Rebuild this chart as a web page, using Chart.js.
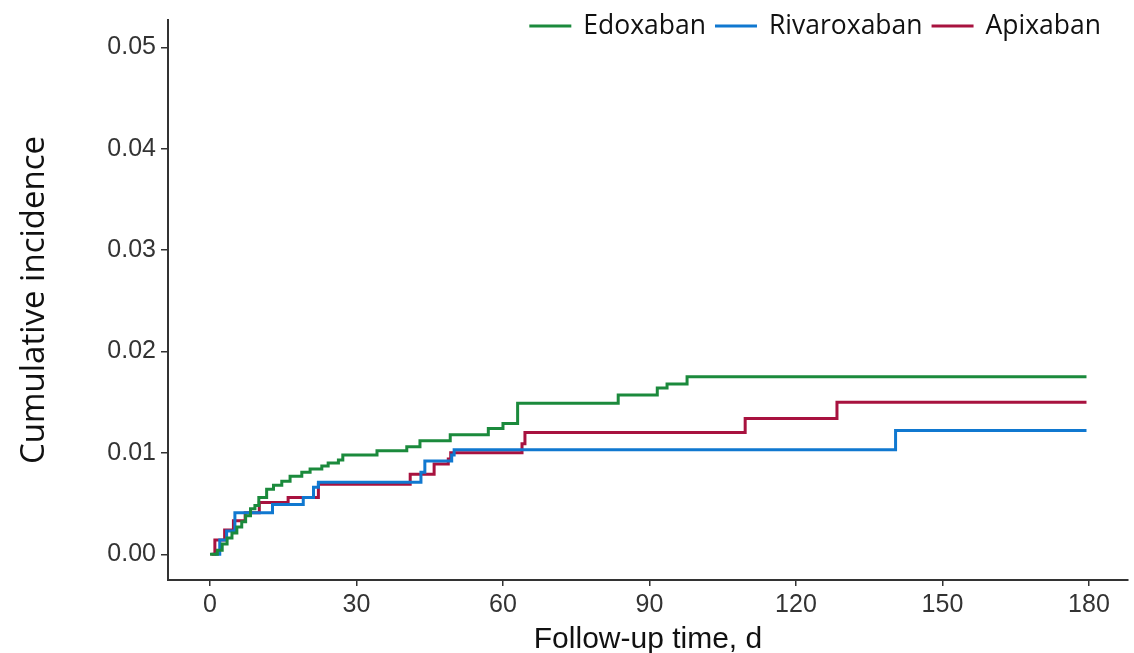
<!DOCTYPE html>
<html>
<head>
<meta charset="utf-8">
<title>Cumulative incidence</title>
<script src="https://cdn.jsdelivr.net/npm/chart.js@4.4.0/dist/chart.umd.min.js"></script>
<style>
  html, body { margin: 0; padding: 0; background: #fff; overflow: hidden; }
</style>
</head>
<body>
<canvas id="incidenceChart" width="1134" height="653"></canvas>
<script>
// --- Data (days, cumulative incidence) ---
const seriesNames = ['Edoxaban', 'Rivaroxaban', 'Apixaban'];
const seriesColors = ['#1b8a3c', '#1078d0', '#a8123f'];

const edoxabanDays = [0, 1.5, 2.5, 3.5, 4.5, 5.5, 6.5, 7.3, 8.3, 9.2, 10, 11.6, 13, 14.7, 16.4, 18.8, 20.5, 22.9, 24.2, 26.3, 27.2, 34.2, 40.3, 43, 49.2, 57, 60, 63, 83.6, 91.6, 93.6, 97.7, 179.5];
const edoxabanInc = [0, 0.0004, 0.0010, 0.0016, 0.0021, 0.0027, 0.0032, 0.0038, 0.0045, 0.0048, 0.0056, 0.0064, 0.0068, 0.0072, 0.0077, 0.0081, 0.0084, 0.0087, 0.0090, 0.0093, 0.0098, 0.0102, 0.0106, 0.0112, 0.0118, 0.0124, 0.0129, 0.0149, 0.0157, 0.0164, 0.0168, 0.0175, 0.0175];

const rivaroxabanDays = [1, 2, 3.4, 5.1, 12.8, 19.1, 21.2, 22.2, 43.2, 44, 49.5, 50, 140.4, 179.5];
const rivaroxabanInc = [0, 0.0014, 0.0023, 0.0041, 0.0049, 0.0056, 0.0066, 0.0071, 0.0081, 0.0092, 0.0098, 0.0103, 0.0122, 0.0122];

const apixabanDays = [0.3, 1, 3, 4.8, 7.2, 10.1, 16, 22.2, 41, 45.9, 48.8, 49.3, 63.9, 64.5, 109.6, 128.4, 179.5];
const apixabanInc = [0, 0.0014, 0.0024, 0.0033, 0.0041, 0.0051, 0.0056, 0.0069, 0.0079, 0.0089, 0.0094, 0.0100, 0.0109, 0.0120, 0.0134, 0.0150, 0.0150];

const xTickValues = [0, 30, 60, 90, 120, 150, 180];
const yTickValues = [0, 0.01, 0.02, 0.03, 0.04, 0.05];

const toPoints = (days, inc) => days.map((d, i) => ({ x: d, y: inc[i] }));
const allDays = [edoxabanDays, rivaroxabanDays, apixabanDays];
const allInc = [edoxabanInc, rivaroxabanInc, apixabanInc];

// Legend drawn across the top right, over the plot area
const topLegend = {
    id: 'topLegend',
    afterDraw(chart) {
        const ctx = chart.ctx;
        const sets = chart.data.datasets;
        const lineLen = 42, lineGap = 12, itemGap = 9;
        ctx.save();
        ctx.font = '26.5px "Open Sans"';
        ctx.textBaseline = 'middle';
        const widths = sets.map(d => lineLen + lineGap + ctx.measureText(d.label).width);
        const total = widths.reduce((a, b) => a + b, 0) + itemGap * (sets.length - 1);
        let x = 1101 - total;
        const y = 26;
        sets.forEach((d, i) => {
            ctx.strokeStyle = d.borderColor;
            ctx.lineWidth = 3;
            ctx.beginPath();
            ctx.moveTo(x, y);
            ctx.lineTo(x + lineLen, y);
            ctx.stroke();
            ctx.fillStyle = '#111';
            ctx.fillText(d.label, x + lineLen + lineGap, y);
            x += widths[i] + itemGap;
        });
        ctx.restore();
    }
};

const tickFont = { family: '"Liberation Sans", Arial, sans-serif', size: 25 };

new Chart(document.getElementById('incidenceChart'), {
    type: 'line',
    data: {
        datasets: seriesNames.map((name, i) => ({
            label: name,
            data: toPoints(allDays[i], allInc[i]),
            borderColor: seriesColors[i],
            backgroundColor: seriesColors[i],
            borderWidth: 3,
            stepped: 'before',
            pointRadius: 0,
            fill: false
        }))
    },
    options: {
        responsive: false,
        animation: false,
        devicePixelRatio: 1,
        layout: { padding: { left: 0, top: 16, right: 6, bottom: 0 } },
        plugins: {
            legend: { display: false },
            tooltip: { enabled: false }
        },
        scales: {
            x: {
                type: 'linear',
                min: -8.6,
                max: 188,
                afterBuildTicks: s => { s.ticks = xTickValues.map(v => ({ value: v })); },
                afterFit: s => { s.height = 73; },
                grid: { drawOnChartArea: false, drawTicks: true, tickLength: 6, color: '#333', lineWidth: 1.5 },
                border: { display: true, color: '#333', width: 2 },
                ticks: { padding: 4, maxRotation: 0, font: tickFont, color: '#333' },
                title: {
                    display: true,
                    text: 'Follow-up time, d',
                    font: { family: '"Liberation Sans", Arial, sans-serif', size: 30 },
                    color: '#111',
                    padding: { top: 0, bottom: -5 }
                }
            },
            y: {
                type: 'linear',
                min: -0.00254,
                max: 0.0527,
                afterBuildTicks: s => { s.ticks = yTickValues.map(v => ({ value: v })); },
                afterFit: s => { s.width = 168; },
                grid: { drawOnChartArea: false, drawTicks: true, tickLength: 7, color: '#333', lineWidth: 1.5 },
                border: { display: true, color: '#333', width: 2 },
                ticks: { padding: 5, font: tickFont, color: '#333', callback: v => v.toFixed(2) },
                title: {
                    display: true,
                    text: 'Cumulative incidence',
                    font: { family: '"Open Sans", sans-serif', size: 33 },
                    color: '#111',
                    padding: { top: 15, bottom: 0 }
                }
            }
        }
    },
    plugins: [topLegend]
});
</script>
</body>
</html>
